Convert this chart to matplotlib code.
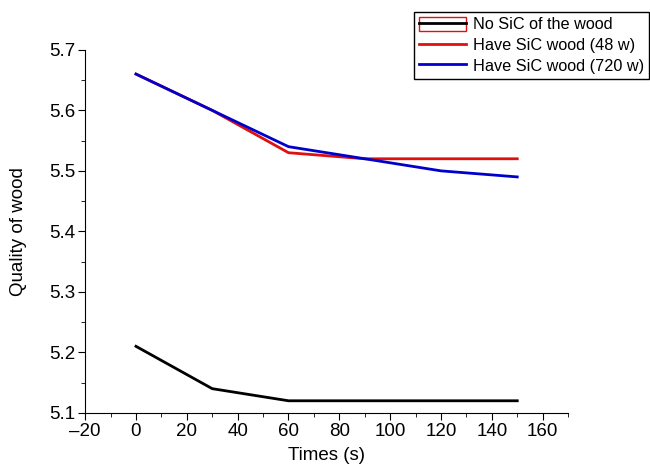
import matplotlib
matplotlib.use('Agg')
import matplotlib.pyplot as plt
from matplotlib.lines import Line2D
from matplotlib.patches import Patch
from matplotlib.legend_handler import HandlerTuple
from matplotlib.ticker import MultipleLocator

plt.rcParams['font.family'] = ['Liberation Sans', 'DejaVu Sans']

times = [0, 30, 60, 90, 120, 150]
no_sic = [5.21, 5.14, 5.12, 5.12, 5.12, 5.12]
sic_48 = [5.66, 5.60, 5.53, 5.52, 5.52, 5.52]
sic_720 = [5.66, 5.60, 5.54, 5.52, 5.50, 5.49]
labels = ['No SiC of the wood', 'Have SiC wood (48 w)', 'Have SiC wood (720 w)']

fig = plt.figure(figsize=(6.5, 4.66), dpi=100)
ax = fig.add_axes([0.131, 0.114, 0.743, 0.779])

ax.plot(times, no_sic, color='black', lw=2)
ax.plot(times, sic_48, color='#e01010', lw=2)
ax.plot(times, sic_720, color='#0000cc', lw=2)

ax.set_xlim(-20, 170)
ax.set_ylim(5.1, 5.7)
ax.xaxis.set_major_locator(MultipleLocator(20))
ax.xaxis.set_minor_locator(MultipleLocator(10))
ax.yaxis.set_major_locator(MultipleLocator(0.1))
ax.yaxis.set_minor_locator(MultipleLocator(0.05))
ax.set_xticks(range(-20, 161, 20))
ax.set_xticklabels(['\u201320' if t < 0 else str(t) for t in range(-20, 161, 20)])
ax.spines['top'].set_visible(False)
ax.spines['right'].set_visible(False)
ax.tick_params(which='major', direction='out', length=5, labelsize=13.5, pad=2)
ax.tick_params(which='minor', direction='out', length=3)
ax.set_xlabel('Times (s)', fontsize=13.5, labelpad=5)
ax.set_ylabel('Quality of wood', fontsize=13.5, labelpad=16)

h1 = (Patch(facecolor='none', edgecolor='#e01010', lw=1), Line2D([], [], color='black', lw=2))
h2 = Line2D([], [], color='#e01010', lw=2)
h3 = Line2D([], [], color='#0000cc', lw=2)
leg = fig.legend([h1, h2, h3], labels, loc='upper right', bbox_to_anchor=(0.998, 0.975),
                 handler_map={tuple: HandlerTuple(ndivide=1, pad=0)},
                 fontsize=11.7, fancybox=False, framealpha=1, edgecolor='black',
                 handlelength=2.9, handleheight=1.0, handletextpad=0.4, borderpad=0.3,
                 labelspacing=0.3, borderaxespad=0)
leg.get_frame().set_linewidth(1)

fig.savefig('out.png', dpi=100)
